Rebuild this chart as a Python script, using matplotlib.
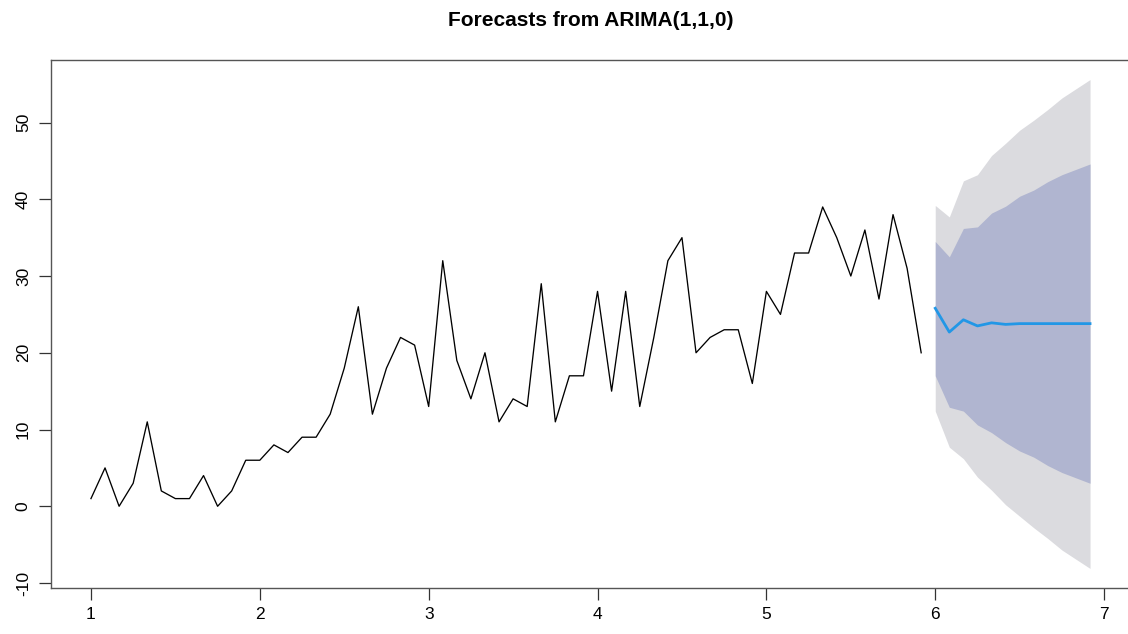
import numpy as np
import matplotlib
matplotlib.use("Agg")
import matplotlib.pyplot as plt

# Monthly observations, starting at time 1 (frequency 12)
observed = [1, 5, 0, 3, 11, 2, 1, 1, 4, 0, 2, 6,
            6, 8, 7, 9, 9, 12, 18, 26, 12, 18, 22, 21,
            13, 32, 19, 14, 20, 11, 14, 13, 29, 11, 17, 17,
            28, 15, 28, 13, 22, 32, 35, 20, 22, 23, 23, 16,
            28, 25, 33, 33, 39, 35, 30, 36, 27, 38, 31, 20]

# 12-step forecast with 80% and 95% prediction intervals
fc_mean = [25.8, 22.7, 24.3, 23.5, 23.9, 23.7, 23.8, 23.8, 23.8, 23.8, 23.8, 23.8]
lo80 = [17.0, 12.9, 12.4, 10.6, 9.6, 8.3, 7.2, 6.4, 5.3, 4.4, 3.7, 3.0]
hi80 = [34.5, 32.5, 36.2, 36.4, 38.2, 39.1, 40.4, 41.2, 42.3, 43.2, 43.9, 44.6]
lo95 = [12.4, 7.7, 6.2, 3.8, 2.1, 0.2, -1.3, -2.8, -4.2, -5.7, -6.9, -8.1]
hi95 = [39.2, 37.7, 42.4, 43.2, 45.7, 47.3, 49.0, 50.3, 51.7, 53.2, 54.4, 55.6]

start, freq = 1.0, 12
title = "Forecasts from ARIMA(1,1,0)"
xticks = [1, 2, 3, 4, 5, 6, 7]
yticks = [-10, 0, 10, 20, 30, 40, 50]

t_obs = start + np.arange(len(observed)) / freq
t_fc = start + (len(observed) + np.arange(len(fc_mean))) / freq

plt.rcParams['font.family'] = ['Liberation Sans', 'DejaVu Sans']
plt.rcParams['axes.unicode_minus'] = False

fig = plt.figure(figsize=(11.28, 6.34), dpi=100)
W, H = 1128, 634
left, right, top, bottom = 51, 1130, 60, 588
ax = fig.add_axes([left / W, (H - bottom) / H, (right - left) / W, (bottom - top) / H])

ax.fill_between(t_fc, lo95, hi95, color='#DBDBDF', linewidth=0, zorder=1)
ax.fill_between(t_fc, lo80, hi80, color='#B0B5D0', linewidth=0, zorder=2)
ax.plot(t_obs, observed, color='black', linewidth=0.95, zorder=3)
ax.plot(t_fc, fc_mean, color='#2297E6', linewidth=2.0, zorder=4)

# R-style 4% axis padding
x0, x1 = t_obs[0], t_fc[-1]
y0 = min(min(observed), min(lo95))
y1 = max(max(observed), max(hi95))
px, py = 0.04 * (x1 - x0), 0.04 * (y1 - y0)
ax.set_xlim(x0 - px, x1 + px)
ax.set_ylim(y0 - py, y1 + py)

ax.set_xticks(xticks)
ax.set_yticks(yticks)
ax.tick_params(axis='both', direction='out', length=8.5, width=0.9,
               color='#333333', labelsize=12.5, pad=5)
ax.tick_params(axis='y', labelrotation=90, pad=6)
for lab in ax.get_yticklabels():
    lab.set_verticalalignment('center')

for sp in ax.spines.values():
    sp.set_color('#555555')
    sp.set_linewidth(1.0)

fig.text((left + right) / 2 / W, 1 - 21 / H, title, ha='center', va='center',
         fontsize=15, fontweight='bold')

fig.savefig('out.png', dpi=100)
